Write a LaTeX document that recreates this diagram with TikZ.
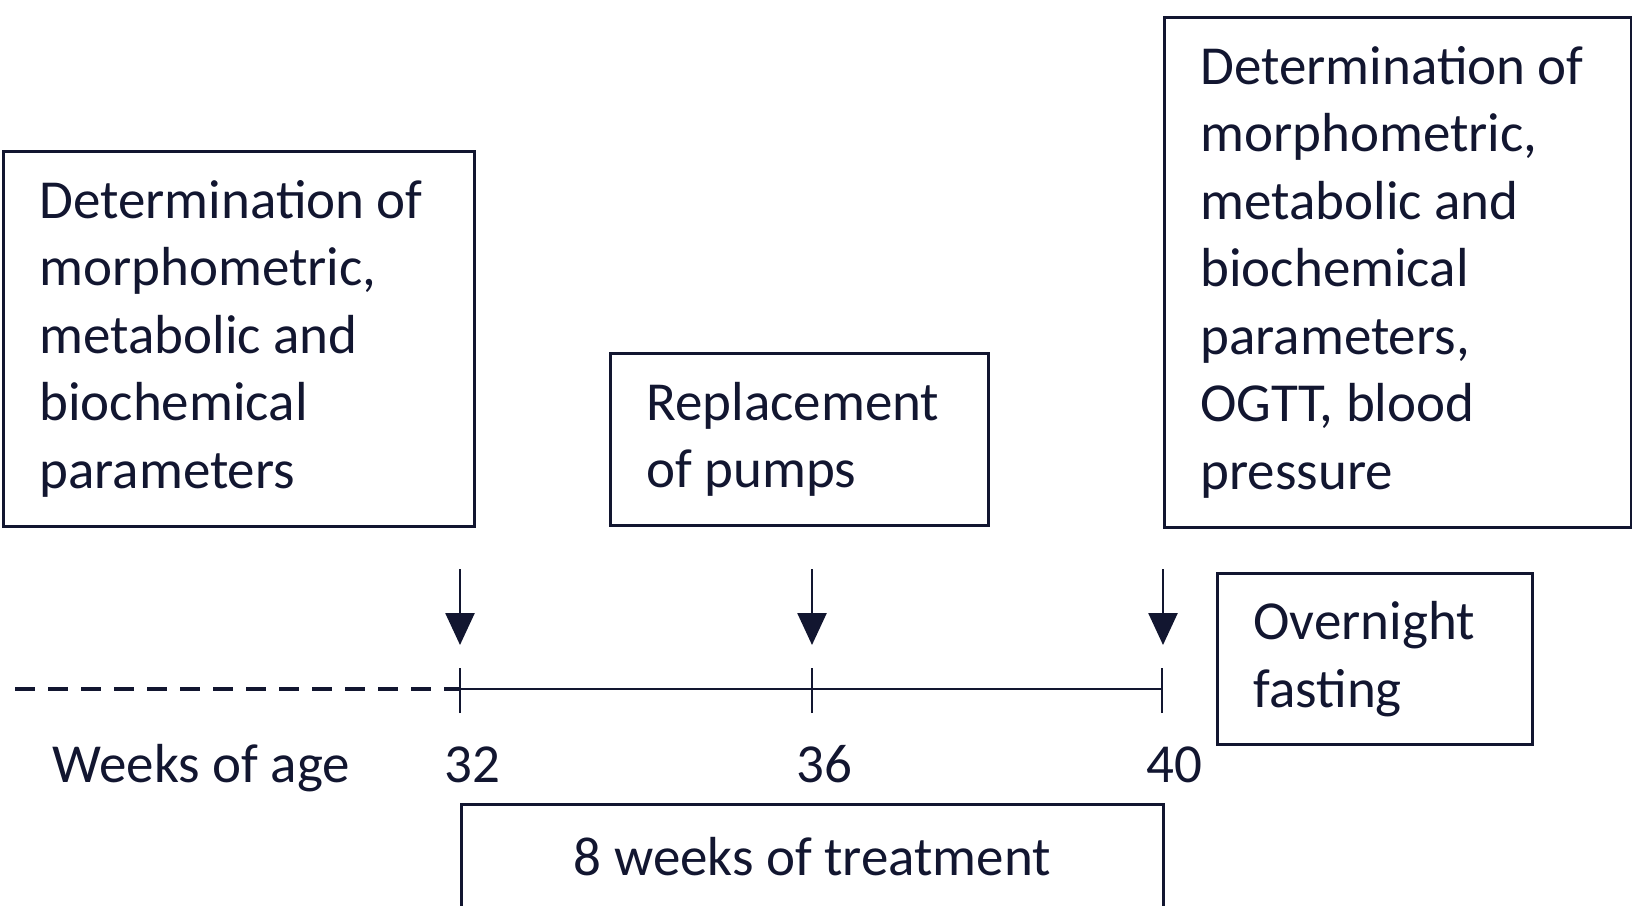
\documentclass[tikz,border=0pt]{standalone}
\usepackage{fontspec}
\setmainfont{Carlito}
\usetikzlibrary{arrows.meta}
\definecolor{ink}{RGB}{18,22,48}
\newcommand{\boxfont}{\fontsize{27.5pt}{33.75pt}\selectfont}
\tikzset{
  >=Triangle,
  infobox/.style={rectangle,draw=ink,line width=1.4pt,text=ink,align=flush left,
                  inner xsep=18pt,inner ysep=0pt,font=\boxfont},
  arr/.style={-{Triangle[width=14.5pt,length=16pt]},draw=ink,line width=1.3pt},
  axisline/.style={draw=ink,line width=1.3pt},
  dashline/.style={draw=ink,line width=2pt,dash pattern=on 10pt off 6.5pt},
  wklabel/.style={text=ink,inner sep=0pt,anchor=base west,font=\boxfont},
}

\begin{document}
\begin{tikzpicture}[x=0.5pt,y=-0.5pt]
    \clip (0,0) rectangle (1632,905);

    % boxes
    \node[infobox,anchor=north west,text width=199.5pt,minimum height=187.5pt] (BASE) at (2,150)
      {Determination of\\morphometric,\\metabolic and\\biochemical\\parameters};
    \node[infobox,anchor=north west,text width=153pt,minimum height=86pt] (PUMP) at (609,352)
      {Replacement\\of pumps};
    \node[infobox,anchor=north west,text width=197.5pt,minimum height=255pt] (FINAL) at (1163,16)
      {Determination of\\morphometric,\\metabolic and\\biochemical\\parameters,\\OGTT, blood\\pressure};
    \node[infobox,anchor=north west,text width=121.5pt,minimum height=85.5pt] (FAST) at (1216,572)
      {Overnight\\fasting};
    \node[infobox,anchor=north west,align=flush center,text width=315pt,minimum height=52.5pt] (TREAT) at (460,803)
      {8 weeks of treatment};

    % time axis
    \coordinate (t0)  at (15,689);
    \coordinate (t32) at (460,689);
    \coordinate (t36) at (812,689);
    \coordinate (t40) at (1162,689);
    \draw[dashline] (t0) -- (t32);
    \draw[axisline] (t32) -- (t40);
    \draw[axisline] ([yshift=-12pt]t32) -- ([yshift=10.5pt]t32);
    \draw[axisline] ([yshift=-12pt]t36) -- ([yshift=10.5pt]t36);
    \draw[axisline] ([yshift=-12pt]t40) -- ([yshift=10.5pt]t40);

    % arrows
    \coordinate (a32) at (460,569);  \coordinate (h32) at (460,645);
    \coordinate (a36) at (812,569);  \coordinate (h36) at (812,645);
    \coordinate (a40) at (1163,569); \coordinate (h40) at (1163,645);
    \draw[arr] (a32) -- (h32);
    \draw[arr] (a36) -- (h36);
    \draw[arr] (a40) -- (h40);

    % labels
    \node[wklabel] (WEEKS) at (52,782)  {Weeks of age};
    \node[wklabel] (W32)   at (444,782) {32};
    \node[wklabel] (W36)   at (796,782) {36};
    \node[wklabel] (W40)   at (1146,782) {40};
  \end{tikzpicture}
\end{document}
